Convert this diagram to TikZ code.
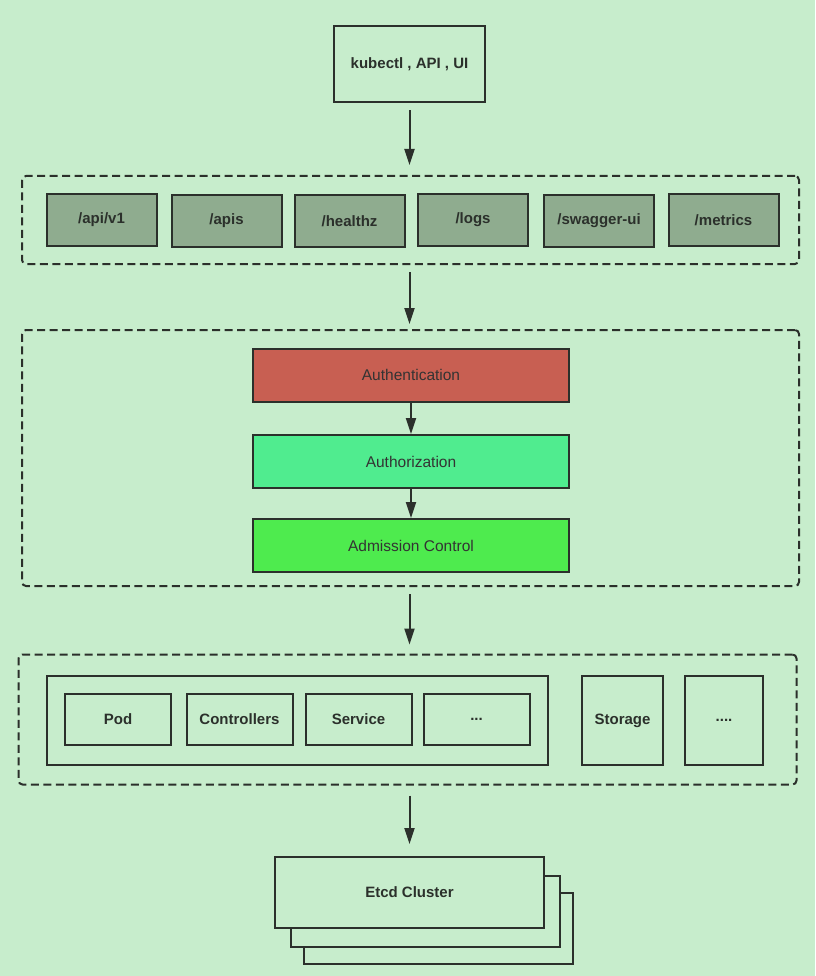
\documentclass[tikz,border=0pt]{standalone}
\usepackage{fontspec}
\setmainfont{Liberation Sans}
\usetikzlibrary{arrows.meta}

\definecolor{bgcol}{HTML}{C7EDCC}
\definecolor{linecol}{HTML}{2B302B}
\definecolor{epfill}{HTML}{8FAC8F}
\definecolor{authnfill}{HTML}{C85F52}
\definecolor{authzfill}{HTML}{50EC8F}
\definecolor{admitfill}{HTML}{4EEB4E}
\definecolor{txtcol}{HTML}{333333}

\begin{document}
\begin{tikzpicture}[x=1pt,y=-1pt,
  >={Triangle[length=16pt,width=10pt]},
  box/.style={draw=linecol,line width=2pt,fill=bgcol,inner sep=0pt,
    font=\fontsize{15}{17}\selectfont\bfseries,text=linecol},
  ep/.style={box,fill=epfill,minimum width=110pt,minimum height=52pt},
  stage/.style={draw=linecol,line width=2pt,inner sep=0pt,
    minimum width=316pt,minimum height=53pt,
    font=\fontsize{15.5}{17}\selectfont,text=txtcol},
  group/.style={draw=linecol,line width=2pt,dash pattern=on 8pt off 4.5pt,
    rounded corners=4pt,inner sep=0pt},
  res/.style={box,minimum width=106pt,minimum height=51pt},
  flow/.style={->,draw=linecol,line width=2pt}]
\useasboundingbox[fill=bgcol] (0,0) rectangle (815,976);

% client
\node[box,minimum width=151pt,minimum height=76pt] (client) at (409.5,64.5) {kubectl , API , UI};

% api endpoints
\node[group,minimum width=777pt,minimum height=88pt] (routes) at (410.5,220) {};
\node[ep] (apiv1)   at (101.5,220) {/api/v1};
\node[ep] (apis)    at (226.5,221) {/apis};
\node[ep] (healthz) at (349.5,221) {/healthz};
\node[ep] (logs)    at (473,220)   {/logs};
\node[ep] (swagger) at (599,221)   {/swagger-ui};
\node[ep] (metrics) at (723.5,220) {/metrics};

% access control
\node[group,minimum width=777pt,minimum height=256pt] (access) at (410.5,458) {};
\node[stage,fill=authnfill] (authn) at (411,375)   {Authentication};
\node[stage,fill=authzfill] (authz) at (411,461.5) {Authorization};
\node[stage,fill=admitfill] (admit) at (411,545.5) {Admission Control};

% resources
\node[group,minimum width=778pt,minimum height=130pt] (resources) at (407.5,719.5) {};
\node[box,minimum width=501pt,minimum height=89pt] (objects) at (297.5,720.5) {};
\node[res] (pod)   at (118,719.5)   {Pod};
\node[res] (ctrl)  at (239.5,719.5) {Controllers};
\node[res] (svc)   at (358.5,719.5) {Service};
\node[res] (more)  at (476.5,719.5) {...};
\node[box,minimum width=81pt,minimum height=89pt] (storage) at (622.5,720.5) {Storage};
\node[box,minimum width=78pt,minimum height=89pt] (others)  at (724,720.5)   {....};

% etcd
\node[box,minimum width=269pt,minimum height=71pt] (etcd3) at (438.5,928.5) {};
\node[box,minimum width=269pt,minimum height=71pt] (etcd2) at (425.5,911.5) {};
\node[box,minimum width=269pt,minimum height=71pt] (etcd)  at (409.5,892.5) {Etcd Cluster};

\draw[flow] ([yshift=-7pt]client.south) -- ([yshift=10pt]client.south |- routes.north);
\draw[flow] ([yshift=-7pt]client.south |- routes.south) -- ([yshift=5pt]client.south |- access.north);
\draw[flow] (authn) -- (authn |- authz.north);
\draw[flow] (authz) -- (authz |- admit.north);
\draw[flow] ([yshift=-7pt]client.south |- access.south) -- ([yshift=9pt]client.south |- resources.north);
\draw[flow] ([yshift=-10pt]client.south |- resources.south) -- ([yshift=12pt]etcd.north);
\end{tikzpicture}
\end{document}
